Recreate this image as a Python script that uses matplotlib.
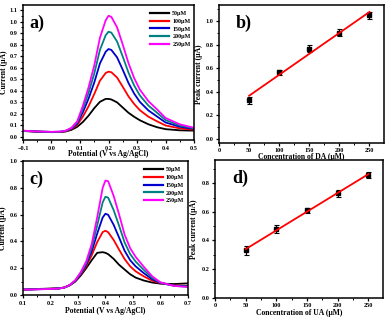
import matplotlib
matplotlib.use('Agg')
import matplotlib.pyplot as plt
from matplotlib.ticker import MultipleLocator, AutoMinorLocator
import numpy as np

plt.rcParams['font.family'] = ['Liberation Serif', 'DejaVu Serif']
plt.rcParams['font.weight'] = 'bold'

# ---- data ----
labels = ['50\u03bcM', '100\u03bcM', '150\u03bcM', '200\u03bcM', '250\u03bcM']
colors = ['black', 'red', '#0000cc', '#008080', '#ff00ff']

# panel a) DA, DPV curves
pot_a = [-0.1, -0.05, 0.0, 0.03, 0.05, 0.07, 0.09, 0.11, 0.13, 0.15, 0.17, 0.19,
         0.2, 0.21, 0.23, 0.25, 0.27, 0.29, 0.31, 0.34, 0.37, 0.4, 0.45, 0.5]
da_50 = [0.052, 0.046, 0.042, 0.043, 0.048, 0.062, 0.088, 0.13, 0.185, 0.25, 0.305, 0.33,
         0.33, 0.325, 0.3, 0.255, 0.21, 0.175, 0.145, 0.11, 0.085, 0.068, 0.058, 0.055]
da_100 = [0.053, 0.047, 0.043, 0.044, 0.05, 0.068, 0.104, 0.176, 0.266, 0.372, 0.488, 0.554,
          0.566, 0.561, 0.515, 0.435, 0.352, 0.286, 0.232, 0.176, 0.136, 0.1, 0.075, 0.063]
da_150 = [0.054, 0.047, 0.044, 0.045, 0.052, 0.073, 0.116, 0.214, 0.332, 0.472, 0.638, 0.738,
          0.762, 0.754, 0.69, 0.582, 0.468, 0.376, 0.304, 0.23, 0.178, 0.126, 0.089, 0.07]
da_200 = [0.054, 0.048, 0.044, 0.046, 0.054, 0.077, 0.126, 0.243, 0.383, 0.55, 0.755, 0.881,
          0.912, 0.904, 0.827, 0.696, 0.558, 0.446, 0.36, 0.272, 0.211, 0.147, 0.1, 0.075]
da_250 = [0.055, 0.048, 0.045, 0.047, 0.055, 0.08, 0.135, 0.27, 0.43, 0.62, 0.86, 1.01,
          1.05, 1.04, 0.95, 0.8, 0.64, 0.51, 0.41, 0.31, 0.24, 0.165, 0.11, 0.08]

# panel c) UA, DPV curves
pot_c = [0.1, 0.15, 0.2, 0.23, 0.25, 0.27, 0.29, 0.31, 0.33, 0.35, 0.37, 0.39,
         0.4, 0.41, 0.43, 0.45, 0.47, 0.49, 0.51, 0.54, 0.57, 0.6, 0.65, 0.7]
ua_50 = [0.04, 0.045, 0.048, 0.05, 0.056, 0.072, 0.1, 0.145, 0.2, 0.26, 0.315, 0.32,
         0.315, 0.305, 0.27, 0.225, 0.19, 0.155, 0.13, 0.108, 0.093, 0.085, 0.082, 0.087]
ua_100 = [0.04, 0.044, 0.047, 0.049, 0.056, 0.073, 0.103, 0.153, 0.215, 0.296, 0.395, 0.47,
          0.48, 0.469, 0.411, 0.338, 0.268, 0.214, 0.177, 0.139, 0.107, 0.088, 0.072, 0.068]
ua_150 = [0.04, 0.043, 0.046, 0.049, 0.055, 0.074, 0.105, 0.159, 0.227, 0.325, 0.458, 0.579,
          0.607, 0.599, 0.524, 0.428, 0.33, 0.26, 0.214, 0.163, 0.118, 0.09, 0.07, 0.065]
ua_200 = [0.04, 0.043, 0.046, 0.048, 0.055, 0.074, 0.108, 0.164, 0.239, 0.353, 0.52, 0.692,
          0.734, 0.727, 0.634, 0.516, 0.392, 0.306, 0.25, 0.187, 0.129, 0.093, 0.068, 0.062]
ua_250 = [0.04, 0.042, 0.045, 0.048, 0.055, 0.075, 0.11, 0.17, 0.25, 0.38, 0.58, 0.8,
          0.855, 0.85, 0.74, 0.6, 0.45, 0.35, 0.285, 0.21, 0.14, 0.095, 0.068, 0.06]

# calibration points
conc = [50, 100, 150, 200, 250]
da_peak = [0.33, 0.565, 0.765, 0.9, 1.05]
da_err = [0.03, 0.02, 0.03, 0.03, 0.03]
ua_peak = [0.33, 0.48, 0.61, 0.73, 0.86]
ua_err = [0.03, 0.025, 0.02, 0.025, 0.02]

TICK_FS = 4.5
LAB_FS = 5.5


def style_axes(ax):
    for s in ax.spines.values():
        s.set_linewidth(1.1)
    ax.tick_params(which='major', direction='out', length=2.5, width=0.9,
                   labelsize=TICK_FS, pad=1.5)
    ax.tick_params(which='minor', direction='out', length=1.5, width=0.7)
    for lab in ax.get_xticklabels() + ax.get_yticklabels():
        lab.set_fontweight('bold')


def dpv_panel(ax, pot, curves, xlim, ylim, ymaj, tag, leg_anchor, ylab_x, xlab_y):
    for y, c, l in zip(curves, colors, labels):
        ax.plot(pot, y, color=c, lw=1.3, label=l, solid_joinstyle='round')
    ax.set_xlim(*xlim)
    ax.set_ylim(*ylim)
    ax.xaxis.set_major_locator(MultipleLocator(0.1))
    ax.xaxis.set_minor_locator(AutoMinorLocator(2))
    ax.yaxis.set_major_locator(MultipleLocator(ymaj))
    ax.yaxis.set_minor_locator(AutoMinorLocator(2))
    ax.yaxis.set_major_formatter(plt.FormatStrFormatter('%.1f'))
    ax.set_xlabel('Potential (V vs Ag/AgCl)', fontsize=LAB_FS, fontweight='bold')
    ax.set_ylabel('Current (\u03bcA)', fontsize=LAB_FS, fontweight='bold')
    ax.yaxis.set_label_coords(ylab_x, 0.5)
    ax.xaxis.set_label_coords(0.5, xlab_y)
    ax.text(0.04, 0.93, tag, transform=ax.transAxes, fontsize=13,
            fontweight='bold', va='top')
    leg = ax.legend(loc='upper right', bbox_to_anchor=leg_anchor, frameon=False,
                    fontsize=4.3, handlelength=3.2, handletextpad=0.5,
                    labelspacing=0.45, borderaxespad=0.2)
    for line in leg.get_lines():
        line.set_linewidth(1.6)
    style_axes(ax)


def calib_panel(ax, y, err, ylim, xlabel, tag, ylab_x, xlab_y):
    ax.errorbar(conc, y, yerr=err, fmt='s', color='black', ms=3.2,
                capsize=1.8, elinewidth=0.8, capthick=0.8, zorder=3)
    k, b = np.polyfit(conc, y, 1)
    xf = np.array([conc[0], conc[-1]])
    ax.plot(xf, k * xf + b, color='red', lw=1.3, zorder=4)
    ax.set_xlim(0, 274)
    ax.set_ylim(*ylim)
    ax.xaxis.set_major_locator(MultipleLocator(50))
    ax.xaxis.set_minor_locator(AutoMinorLocator(2))
    ax.yaxis.set_major_locator(MultipleLocator(0.2))
    ax.yaxis.set_minor_locator(AutoMinorLocator(2))
    ax.yaxis.set_major_formatter(plt.FormatStrFormatter('%.1f'))
    ax.set_xlabel(xlabel, fontsize=LAB_FS, fontweight='bold')
    ax.set_ylabel('Peak current (\u03bcA)', fontsize=LAB_FS, fontweight='bold')
    ax.yaxis.set_label_coords(ylab_x, 0.5)
    ax.xaxis.set_label_coords(0.5, xlab_y)
    ax.text(0.1, 0.93, tag, transform=ax.transAxes, fontsize=13,
            fontweight='bold', va='top')
    style_axes(ax)


fig = plt.figure(figsize=(3.87, 3.18), dpi=100)
ax_a = fig.add_axes([0.0594, 0.5597, 0.442, 0.4245])
ax_b = fig.add_axes([0.566, 0.5513, 0.426, 0.433])
ax_c = fig.add_axes([0.0594, 0.0723, 0.426, 0.421])
ax_d = fig.add_axes([0.556, 0.064, 0.434, 0.433])

dpv_panel(ax_a, pot_a, [da_50, da_100, da_150, da_200, da_250],
          (-0.1, 0.5), (-0.026, 1.143), 0.1, 'a)', (1.0, 0.985), -0.085, -0.074)
dpv_panel(ax_c, pot_c, [ua_50, ua_100, ua_150, ua_200, ua_250],
          (0.1, 0.7), (0, 1.0), 0.2, 'c)', (1.0, 0.985), -0.094, -0.09)
calib_panel(ax_b, da_peak, da_err, (-0.031, 1.136), 'Concentration of DA (\u03bcM)', 'b)',
            -0.097, -0.074)
calib_panel(ax_d, ua_peak, ua_err, (0, 0.963), 'Concentration of UA (\u03bcM)', 'd)',
            -0.104, -0.082)

fig.savefig('out.png', dpi=100)
